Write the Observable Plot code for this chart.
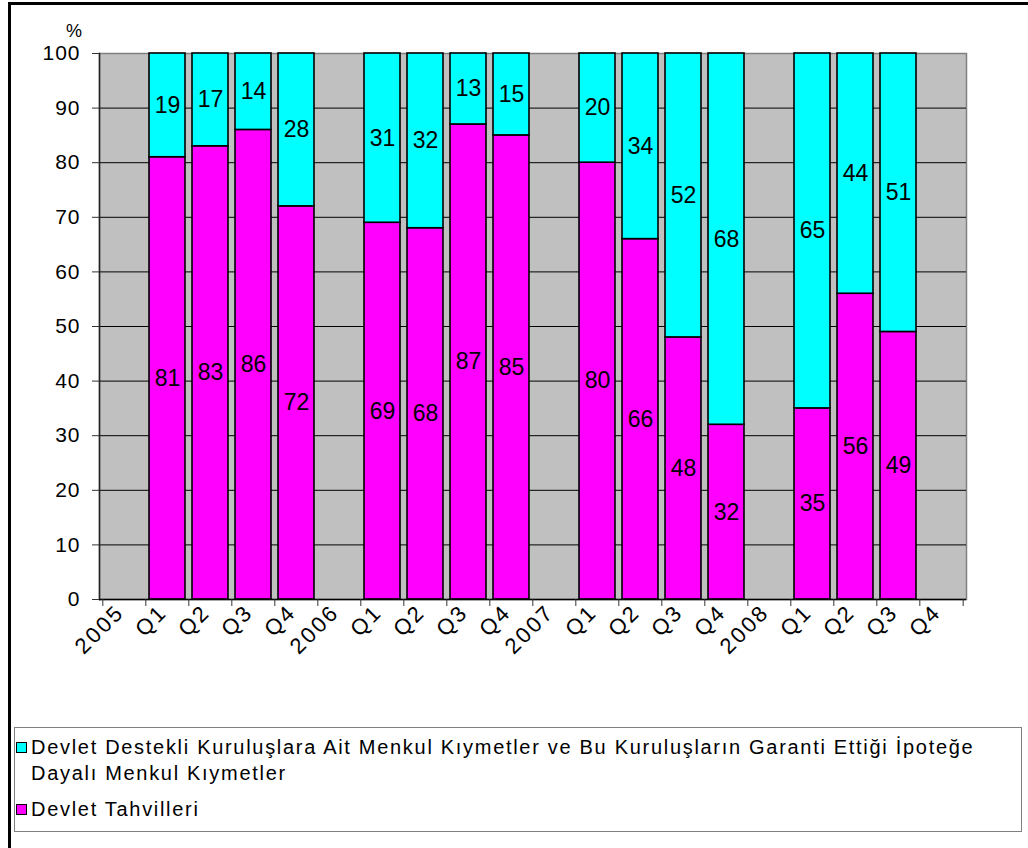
<!DOCTYPE html>
<html>
<head>
<meta charset="utf-8">
<script src="https://cdn.jsdelivr.net/npm/d3@7"></script>
<script src="https://cdn.jsdelivr.net/npm/@observablehq/plot@0.6"></script>
<style>
  body { margin: 0; background: #fff; font-family: "Liberation Sans", Arial, sans-serif; }
  #wrap { position: relative; width: 1028px; height: 848px; overflow: hidden; background: #fff; }
  #frame { position: absolute; left: 8px; top: 2px; width: 1100px; height: 900px; border-top: 3px solid #000; border-left: 3px solid #000; }
  #chart { position: absolute; left: 0; top: 0; }
  #pct { position: absolute; left: 66px; top: 22px; font-size: 18px; line-height: 18px; color: #000; }
  #legend { position: absolute; left: 14px; top: 727px; width: 1008px; height: 105px; border: 1px solid #808080; box-sizing: border-box; background: #fff; }
  .item { position: absolute; left: 0; font-size: 20px; letter-spacing: 1.7px; line-height: 26px; padding-left: 16px; color: #000; white-space: nowrap; }
  .sw { position: absolute; left: 1px; top: 8px; width: 9px; height: 9px; border: 1px solid #000; }
</style>
</head>
<body>
<div id="wrap">
  <div id="frame"></div>
  <div id="chart"></div>
  <div id="pct">%</div>
  <div id="legend"></div>
</div>
<script>
// ---- data ----
const periods = ["2005", "2005 Q1", "2005 Q2", "2005 Q3", "2005 Q4",
                 "2006", "2006 Q1", "2006 Q2", "2006 Q3", "2006 Q4",
                 "2007", "2007 Q1", "2007 Q2", "2007 Q3", "2007 Q4",
                 "2008", "2008 Q1", "2008 Q2", "2008 Q3", "2008 Q4"];
const tickLabels = ["2005", "Q1", "Q2", "Q3", "Q4",
                    "2006", "Q1", "Q2", "Q3", "Q4",
                    "2007", "Q1", "Q2", "Q3", "Q4",
                    "2008", "Q1", "Q2", "Q3", "Q4"];
const seriesNames = ["Devlet Tahvilleri",
  "Devlet Destekli Kuruluşlara Ait Menkul Kıymetler ve Bu Kuruluşların Garanti Ettiği İpoteğe Dayalı Menkul Kıymetler"];
const legendLines = [
  ["Devlet Destekli Kuruluşlara Ait Menkul Kıymetler ve Bu Kuruluşların Garanti Ettiği İpoteğe", "Dayalı Menkul Kıymetler"],
  ["Devlet Tahvilleri"]
];
const tahvil = [null, 81, 83, 86, 72, null, 69, 68, 87, 85, null, 80, 66, 48, 32, null, 35, 56, 49, null];
const gse    = [null, 19, 17, 14, 28, null, 31, 32, 13, 15, null, 20, 34, 52, 68, null, 65, 44, 51, null];
const yTicks = [0, 10, 20, 30, 40, 50, 60, 70, 80, 90, 100];
const colors = ["#ff00ff", "#00ffff"];

// ---- build table ----
const rows = [];
periods.forEach((p, i) => {
  if (tahvil[i] != null) rows.push({period: p, series: seriesNames[0], value: tahvil[i]});
  if (gse[i] != null) rows.push({period: p, series: seriesNames[1], value: gse[i]});
});
const labelOf = new Map(periods.map((p, i) => [p, tickLabels[i]]));

const W = 1028, H = 720, mL = 99, mR = 62, mT = 53, mB = 121;
const step = (W - mL - mR) / periods.length;
const font = "'Liberation Sans', Arial, sans-serif";

const chart = Plot.plot({
  width: W, height: H,
  marginLeft: mL, marginRight: mR, marginTop: mT, marginBottom: mB,
  style: {fontFamily: font, color: "#000", background: "transparent", overflow: "visible"},
  x: {type: "band", domain: periods, paddingInner: 0.17, paddingOuter: 0.085},
  y: {domain: [0, 100]},
  color: {domain: seriesNames, range: colors},
  marks: [
    Plot.frame({fill: "#c0c0c0", stroke: "#808080", strokeWidth: 1.5}),
    Plot.ruleY(yTicks.filter(v => v > 0 && v < 100), {stroke: "#000", strokeWidth: 1}),
    Plot.barY(rows, Plot.stackY({x: "period", y: "value", fill: "series", order: seriesNames,
      stroke: "#000", strokeWidth: 1.6})),
    Plot.text(rows, Plot.stackY({x: "period", y: "value", z: "series", order: seriesNames,
      text: d => String(d.value), fontSize: 23, fill: "#000"})),
    Plot.frame({anchor: "left", stroke: "#222", strokeWidth: 1.5}),
    Plot.ruleY([0], {stroke: "#000", strokeWidth: 1.5}),
    Plot.axisY({ticks: yTicks, tickSize: 7, tickPadding: 12, fontSize: 21, label: null, stroke: "#333"}),
    Plot.axisX({ticks: periods, tickSize: 7, tickFormat: () => "", dx: -step / 2, stroke: "#333", label: null}),
    Plot.axisX({ticks: [periods[periods.length - 1]], tickSize: 7, tickFormat: () => "", dx: step / 2, stroke: "#333", label: null}),
    Plot.axisX({ticks: periods, tickSize: 0, tickPadding: 9, tickRotate: -45, fontSize: 22, dx: -4,
      tickFormat: d => labelOf.get(d), label: null})
  ]
});
document.getElementById("chart").appendChild(chart);
// wider glyph spacing like the original rendering
d3.select(chart).selectAll("g[aria-label='x-axis tick label'] text").style("letter-spacing", "2.5px");
d3.select(chart).selectAll("g[aria-label='y-axis tick label'] text").style("letter-spacing", "1px");

// ---- legend ----
const legend = document.getElementById("legend");
const legendItems = [
  {lines: legendLines[0], color: colors[1], top: 6},
  {lines: legendLines[1], color: colors[0], top: 68}
];
legendItems.forEach(it => {
  const div = document.createElement("div");
  div.className = "item";
  div.style.top = it.top + "px";
  const sw = document.createElement("span");
  sw.className = "sw";
  sw.style.background = it.color;
  div.appendChild(sw);
  it.lines.forEach((ln, k) => {
    if (k > 0) div.appendChild(document.createElement("br"));
    div.appendChild(document.createTextNode(ln));
  });
  legend.appendChild(div);
});
</script>
</body>
</html>
